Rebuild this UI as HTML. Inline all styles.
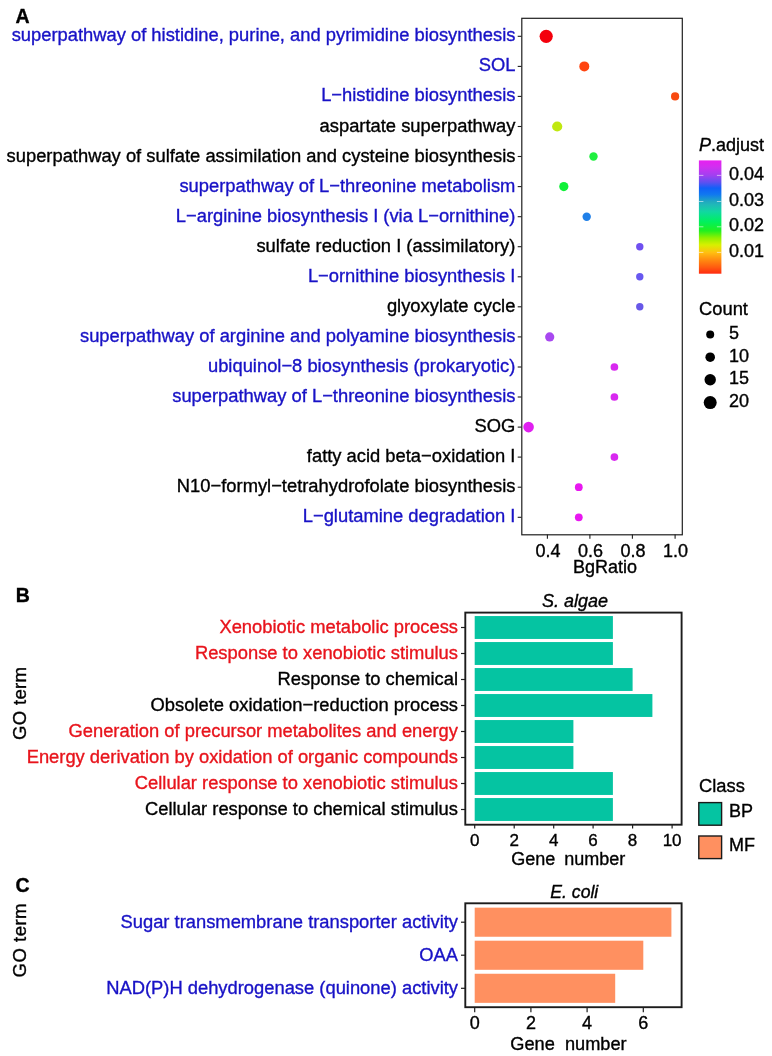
<!DOCTYPE html>
<html><head><meta charset="utf-8"><title>Figure</title>
<style>
html,body{margin:0;padding:0;background:#fff;}
svg{display:block;}
text{font-family:"Liberation Sans",Arial,sans-serif;fill:#000;stroke:#000;stroke-width:0.35px;}
.cb{fill:#1812c6;stroke:#1812c6;}
.cr{fill:#e8141c;stroke:#e8141c;}
.l{font-size:18.35px;text-anchor:end;}
.t{font-size:18px;text-anchor:middle;}
.k{font-size:17px;text-anchor:middle;}
.g{font-size:18px;}
.b{font-weight:bold;font-size:19.5px;}
</style></head><body>
<svg width="772" height="1056" viewBox="0 0 772 1056">
<rect width="772" height="1056" fill="#fff"/>
<defs>
<linearGradient id="g" x1="0" y1="0" x2="0" y2="1">
<stop offset="0" stop-color="#e820f0"/>
<stop offset="0.06" stop-color="#d030f0"/>
<stop offset="0.133" stop-color="#a040f0"/>
<stop offset="0.193" stop-color="#6050f0"/>
<stop offset="0.245" stop-color="#1060f8"/>
<stop offset="0.30" stop-color="#1078f0"/>
<stop offset="0.363" stop-color="#20a8c0"/>
<stop offset="0.39" stop-color="#20b8b8"/>
<stop offset="0.454" stop-color="#10d8a0"/>
<stop offset="0.538" stop-color="#00f060"/>
<stop offset="0.621" stop-color="#20f020"/>
<stop offset="0.684" stop-color="#90f000"/>
<stop offset="0.746" stop-color="#d8f000"/>
<stop offset="0.812" stop-color="#ffc010"/>
<stop offset="0.872" stop-color="#ff9010"/>
<stop offset="0.945" stop-color="#ff5a10"/>
<stop offset="1" stop-color="#ff2a10"/>
</linearGradient>
</defs>

<text class="b" x="15.5" y="23">A</text>
<text class="l cb" x="515.4" y="41.3">superpathway of histidine, purine, and pyrimidine biosynthesis</text>
<line x1="517.7" x2="521.5" y1="36.3" y2="36.3" stroke="#1e1e1e" stroke-width="1.1"/>
<circle cx="546.2" cy="36.3" r="6.6" fill="#f4000c"/>
<text class="l cb" x="515.4" y="71.4">SOL</text>
<line x1="517.7" x2="521.5" y1="66.4" y2="66.4" stroke="#1e1e1e" stroke-width="1.1"/>
<circle cx="584.3" cy="66.4" r="5.0" fill="#ff4410"/>
<text class="l cb" x="515.4" y="101.4">L−histidine biosynthesis</text>
<line x1="517.7" x2="521.5" y1="96.4" y2="96.4" stroke="#1e1e1e" stroke-width="1.1"/>
<circle cx="675.1" cy="96.4" r="4.1" fill="#f84a10"/>
<text class="l" x="515.4" y="131.5">aspartate superpathway</text>
<line x1="517.7" x2="521.5" y1="126.5" y2="126.5" stroke="#1e1e1e" stroke-width="1.1"/>
<circle cx="557.2" cy="126.5" r="5.1" fill="#c0e810"/>
<text class="l" x="515.4" y="161.5">superpathway of sulfate assimilation and cysteine biosynthesis</text>
<line x1="517.7" x2="521.5" y1="156.5" y2="156.5" stroke="#1e1e1e" stroke-width="1.1"/>
<circle cx="593.5" cy="156.5" r="4.2" fill="#20f040"/>
<text class="l cb" x="515.4" y="191.6">superpathway of L−threonine metabolism</text>
<line x1="517.7" x2="521.5" y1="186.6" y2="186.6" stroke="#1e1e1e" stroke-width="1.1"/>
<circle cx="563.8" cy="186.6" r="4.6" fill="#10f038"/>
<text class="l cb" x="515.4" y="221.7">L−arginine biosynthesis I (via L−ornithine)</text>
<line x1="517.7" x2="521.5" y1="216.7" y2="216.7" stroke="#1e1e1e" stroke-width="1.1"/>
<circle cx="586.7" cy="216.7" r="4.2" fill="#2080e8"/>
<text class="l" x="515.4" y="251.7">sulfate reduction I (assimilatory)</text>
<line x1="517.7" x2="521.5" y1="246.7" y2="246.7" stroke="#1e1e1e" stroke-width="1.1"/>
<circle cx="639.8" cy="246.7" r="3.7" fill="#7050f0"/>
<text class="l cb" x="515.4" y="281.8">L−ornithine biosynthesis I</text>
<line x1="517.7" x2="521.5" y1="276.8" y2="276.8" stroke="#1e1e1e" stroke-width="1.1"/>
<circle cx="639.8" cy="276.8" r="3.7" fill="#6858f0"/>
<text class="l" x="515.4" y="311.8">glyoxylate cycle</text>
<line x1="517.7" x2="521.5" y1="306.8" y2="306.8" stroke="#1e1e1e" stroke-width="1.1"/>
<circle cx="639.8" cy="306.8" r="3.7" fill="#6858e8"/>
<text class="l cb" x="515.4" y="341.9">superpathway of arginine and polyamine biosynthesis</text>
<line x1="517.7" x2="521.5" y1="336.9" y2="336.9" stroke="#1e1e1e" stroke-width="1.1"/>
<circle cx="549.7" cy="336.9" r="4.6" fill="#a848f0"/>
<text class="l cb" x="515.4" y="372.0">ubiquinol−8 biosynthesis (prokaryotic)</text>
<line x1="517.7" x2="521.5" y1="367.0" y2="367.0" stroke="#1e1e1e" stroke-width="1.1"/>
<circle cx="614.4" cy="367.0" r="3.85" fill="#d828f0"/>
<text class="l cb" x="515.4" y="402.0">superpathway of L−threonine biosynthesis</text>
<line x1="517.7" x2="521.5" y1="397.0" y2="397.0" stroke="#1e1e1e" stroke-width="1.1"/>
<circle cx="614.4" cy="397.0" r="3.85" fill="#d828f0"/>
<text class="l" x="515.4" y="432.1">SOG</text>
<line x1="517.7" x2="521.5" y1="427.1" y2="427.1" stroke="#1e1e1e" stroke-width="1.1"/>
<circle cx="528.6" cy="427.1" r="5.3" fill="#e020f0"/>
<text class="l" x="515.4" y="462.1">fatty acid beta−oxidation I</text>
<line x1="517.7" x2="521.5" y1="457.1" y2="457.1" stroke="#1e1e1e" stroke-width="1.1"/>
<circle cx="614.4" cy="457.1" r="3.85" fill="#d828f0"/>
<text class="l" x="515.4" y="492.2">N10−formyl−tetrahydrofolate biosynthesis</text>
<line x1="517.7" x2="521.5" y1="487.2" y2="487.2" stroke="#1e1e1e" stroke-width="1.1"/>
<circle cx="578.8" cy="487.2" r="3.9" fill="#e818f0"/>
<text class="l cb" x="515.4" y="522.3">L−glutamine degradation I</text>
<line x1="517.7" x2="521.5" y1="517.3" y2="517.3" stroke="#1e1e1e" stroke-width="1.1"/>
<circle cx="578.8" cy="517.3" r="3.9" fill="#e818f0"/>
<rect x="521.8" y="18.3" width="160.5" height="516.5" fill="none" stroke="#1e1e1e" stroke-width="1.2"/>
<line x1="547.4" x2="547.4" y1="534.5" y2="538.8" stroke="#1e1e1e" stroke-width="1.1"/>
<text class="t" x="547.9" y="557" >0.4</text>
<line x1="589.9" x2="589.9" y1="534.5" y2="538.8" stroke="#1e1e1e" stroke-width="1.1"/>
<text class="t" x="590.4" y="557" >0.6</text>
<line x1="632.4" x2="632.4" y1="534.5" y2="538.8" stroke="#1e1e1e" stroke-width="1.1"/>
<text class="t" x="632.9" y="557" >0.8</text>
<line x1="675.1" x2="675.1" y1="534.5" y2="538.8" stroke="#1e1e1e" stroke-width="1.1"/>
<text class="t" x="675.6" y="557" >1.0</text>
<text class="t" x="605" y="572.7">BgRatio</text>
<text class="g" x="699" y="150.9"><tspan font-style="italic">P</tspan>.adjust</text>
<rect x="698.9" y="160.4" width="22.5" height="113.3" fill="url(#g)"/>
<text class="g" x="729" y="179.9">0.04</text>
<path d="M698.9 175.4h4.5M716.9 175.4h4.5" stroke="#fff" stroke-opacity="0.7" stroke-width="0.8"/>
<text class="g" x="729" y="205.5">0.03</text>
<path d="M698.9 201.5h4.5M716.9 201.5h4.5" stroke="#fff" stroke-opacity="0.7" stroke-width="0.8"/>
<text class="g" x="729" y="231.1">0.02</text>
<path d="M698.9 226.8h4.5M716.9 226.8h4.5" stroke="#fff" stroke-opacity="0.7" stroke-width="0.8"/>
<text class="g" x="729" y="256.7">0.01</text>
<path d="M698.9 252.4h4.5M716.9 252.4h4.5" stroke="#fff" stroke-opacity="0.7" stroke-width="0.8"/>
<text class="g" x="699" y="314.8" style="font-size:18.35px">Count</text>
<circle cx="710.2" cy="334.5" r="4.0" fill="#000"/>
<text class="g" x="729" y="339.3">5</text>
<circle cx="710.2" cy="357.2" r="4.8" fill="#000"/>
<text class="g" x="729" y="361.7">10</text>
<circle cx="710.2" cy="379.8" r="5.7" fill="#000"/>
<text class="g" x="729" y="384.4">15</text>
<circle cx="710.2" cy="402.6" r="6.5" fill="#000"/>
<text class="g" x="729" y="407.2">20</text>
<text class="b" x="15.8" y="602.2">B</text>
<text class="t" x="575" y="607.3" font-style="italic">S. algae</text>
<text class="l cr" x="458" y="633.1">Xenobiotic metabolic process</text>
<line x1="461" x2="465" y1="627.5" y2="627.5" stroke="#1e1e1e" stroke-width="1.2"/>
<rect x="474.7" y="616.05" width="138.2" height="22.9" fill="#05c4a2"/>
<text class="l cr" x="458" y="659.1">Response to xenobiotic stimulus</text>
<line x1="461" x2="465" y1="653.5" y2="653.5" stroke="#1e1e1e" stroke-width="1.2"/>
<rect x="474.7" y="642.05" width="138.2" height="22.9" fill="#05c4a2"/>
<text class="l" x="458" y="685.1">Response to chemical</text>
<line x1="461" x2="465" y1="679.5" y2="679.5" stroke="#1e1e1e" stroke-width="1.2"/>
<rect x="474.7" y="668.05" width="157.9" height="22.9" fill="#05c4a2"/>
<text class="l" x="458" y="711.1">Obsolete oxidation−reduction process</text>
<line x1="461" x2="465" y1="705.5" y2="705.5" stroke="#1e1e1e" stroke-width="1.2"/>
<rect x="474.7" y="694.05" width="177.7" height="22.9" fill="#05c4a2"/>
<text class="l cr" x="458" y="737.1">Generation of precursor metabolites and energy</text>
<line x1="461" x2="465" y1="731.5" y2="731.5" stroke="#1e1e1e" stroke-width="1.2"/>
<rect x="474.7" y="720.05" width="98.7" height="22.9" fill="#05c4a2"/>
<text class="l cr" x="458" y="763.1">Energy derivation by oxidation of organic compounds</text>
<line x1="461" x2="465" y1="757.5" y2="757.5" stroke="#1e1e1e" stroke-width="1.2"/>
<rect x="474.7" y="746.05" width="98.7" height="22.9" fill="#05c4a2"/>
<text class="l cr" x="458" y="789.1">Cellular response to xenobiotic stimulus</text>
<line x1="461" x2="465" y1="783.5" y2="783.5" stroke="#1e1e1e" stroke-width="1.2"/>
<rect x="474.7" y="772.05" width="138.2" height="22.9" fill="#05c4a2"/>
<text class="l" x="458" y="815.1">Cellular response to chemical stimulus</text>
<line x1="461" x2="465" y1="809.5" y2="809.5" stroke="#1e1e1e" stroke-width="1.2"/>
<rect x="474.7" y="798.05" width="138.2" height="22.9" fill="#05c4a2"/>
<rect x="465.3" y="612.6" width="216.3" height="212.1" fill="none" stroke="#1c1c1c" stroke-width="1.9"/>
<line x1="474.7" x2="474.7" y1="825" y2="828.6" stroke="#1e1e1e" stroke-width="1.2"/>
<text class="k" x="474.7" y="846.2">0</text>
<line x1="514.2" x2="514.2" y1="825" y2="828.6" stroke="#1e1e1e" stroke-width="1.2"/>
<text class="k" x="514.2" y="846.2">2</text>
<line x1="553.7" x2="553.7" y1="825" y2="828.6" stroke="#1e1e1e" stroke-width="1.2"/>
<text class="k" x="553.7" y="846.2">4</text>
<line x1="593.1" x2="593.1" y1="825" y2="828.6" stroke="#1e1e1e" stroke-width="1.2"/>
<text class="k" x="593.1" y="846.2">6</text>
<line x1="632.6" x2="632.6" y1="825" y2="828.6" stroke="#1e1e1e" stroke-width="1.2"/>
<text class="k" x="632.6" y="846.2">8</text>
<line x1="672.1" x2="672.1" y1="825" y2="828.6" stroke="#1e1e1e" stroke-width="1.2"/>
<text class="k" x="672.1" y="846.2">10</text>
<text class="t" x="568.2" y="864.8" xml:space="preserve" word-spacing="-0.5">Gene  number</text>
<text class="t" style="font-size:18.6px;letter-spacing:0.3px" transform="translate(26.3,703.3) rotate(-90)">GO term</text>
<text class="g" x="699" y="791.7" style="font-size:18.35px">Class</text>
<rect x="698.8" y="802.6" width="22.8" height="22.6" fill="#05c4a2" stroke="#1a1a1a" stroke-width="1.4"/>
<text class="g" x="729" y="817.3">BP</text>
<rect x="698.8" y="836.0" width="22.8" height="22.6" fill="#ff9060" stroke="#1a1a1a" stroke-width="1.4"/>
<text class="g" x="729" y="850.5">MF</text>
<text class="b" x="15.5" y="892">C</text>
<text class="t" x="574.3" y="897.6" style="font-size:17.6px" font-style="italic">E. coli</text>
<text class="l cb" x="458" y="927.5">Sugar transmembrane transporter activity</text>
<line x1="461" x2="465" y1="922.2" y2="922.2" stroke="#1e1e1e" stroke-width="1.2"/>
<rect x="474.7" y="907.65" width="196.7" height="29.1" fill="#ff9060"/>
<text class="l cb" x="458" y="960.5">OAA</text>
<line x1="461" x2="465" y1="955.2" y2="955.2" stroke="#1e1e1e" stroke-width="1.2"/>
<rect x="474.7" y="940.70" width="168.6" height="29.1" fill="#ff9060"/>
<text class="l cb" x="458" y="993.6">NAD(P)H dehydrogenase (quinone) activity</text>
<line x1="461" x2="465" y1="988.3" y2="988.3" stroke="#1e1e1e" stroke-width="1.2"/>
<rect x="474.7" y="973.75" width="140.5" height="29.1" fill="#ff9060"/>
<rect x="465.3" y="903.3" width="216.3" height="103.9" fill="none" stroke="#1c1c1c" stroke-width="1.9"/>
<line x1="474.7" x2="474.7" y1="1008" y2="1012.2" stroke="#1e1e1e" stroke-width="1.2"/>
<text class="t" x="474.7" y="1028.8">0</text>
<line x1="530.9" x2="530.9" y1="1008" y2="1012.2" stroke="#1e1e1e" stroke-width="1.2"/>
<text class="t" x="530.9" y="1028.8">2</text>
<line x1="587.1" x2="587.1" y1="1008" y2="1012.2" stroke="#1e1e1e" stroke-width="1.2"/>
<text class="t" x="587.1" y="1028.8">4</text>
<line x1="643.3" x2="643.3" y1="1008" y2="1012.2" stroke="#1e1e1e" stroke-width="1.2"/>
<text class="t" x="643.3" y="1028.8">6</text>
<text class="t" x="568.5" y="1049.8" xml:space="preserve" style="font-size:18.2px">Gene  number</text>
<text class="t" style="font-size:18.6px;letter-spacing:0.45px" transform="translate(26.3,940.2) rotate(-90)">GO term</text>
</svg></body></html>
